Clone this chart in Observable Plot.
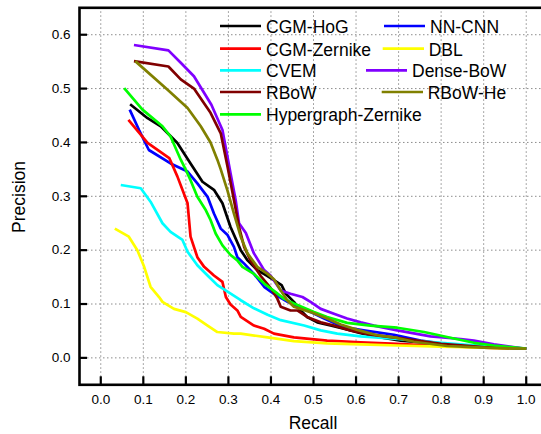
<!DOCTYPE html>
<html><head><meta charset="utf-8">
<script src="https://cdn.jsdelivr.net/npm/d3@7"></script>
<script src="https://cdn.jsdelivr.net/npm/@observablehq/plot@0.6"></script>
<style>
body{margin:0;background:#fff}
#chart{position:relative;width:541px;height:434px;overflow:hidden;background:#fff}
</style>
</head><body><div id="chart"></div>
<script>
// ---- data ----
const seriesNames = ["CGM-HoG","NN-CNN","CGM-Zernike","DBL","CVEM","Dense-BoW","RBoW","Hypergraph-Zernike","RBoW-He"];
const seriesColors = ["#000000","#0000ff","#ff0000","#ffff00","#00ffff","#8000ff","#800000","#00ff00","#808000"];
const xTicks = [0,0.1,0.2,0.3,0.4,0.5,0.6,0.7,0.8,0.9,1.0];
const yTicks = [0,0.1,0.2,0.3,0.4,0.5,0.6];

const cgmHogRecall    = [0.069,0.110,0.141,0.180,0.211,0.239,0.266,0.286,0.305,0.329,0.345,0.368,0.392,0.415,0.425,0.435,0.454,0.470,0.485,0.509,0.540,0.571,0.611,0.658,0.705,0.800,0.900,1.000];
const cgmHogPrecision = [0.471,0.445,0.430,0.399,0.361,0.327,0.312,0.287,0.243,0.200,0.181,0.163,0.152,0.140,0.135,0.119,0.104,0.088,0.076,0.066,0.060,0.054,0.046,0.038,0.032,0.026,0.021,0.017];

const nnCnnRecall    = [0.068,0.090,0.113,0.164,0.204,0.227,0.251,0.266,0.282,0.298,0.313,0.321,0.337,0.360,0.384,0.407,0.439,0.478,0.525,0.571,0.618,0.689,0.752,0.814,0.900,1.000];
const nnCnnPrecision = [0.461,0.423,0.386,0.361,0.346,0.324,0.299,0.268,0.240,0.228,0.206,0.187,0.175,0.156,0.132,0.119,0.104,0.091,0.073,0.057,0.051,0.043,0.032,0.025,0.021,0.017];

const cgmZernikeRecall    = [0.065,0.110,0.161,0.180,0.204,0.211,0.227,0.243,0.266,0.286,0.294,0.305,0.321,0.329,0.360,0.384,0.407,0.454,0.532,0.611,0.697,0.800,0.900,1.000];
const cgmZernikePrecision = [0.442,0.399,0.371,0.337,0.287,0.225,0.187,0.169,0.153,0.141,0.113,0.099,0.088,0.076,0.060,0.054,0.045,0.038,0.032,0.029,0.026,0.022,0.019,0.017];

const dblRecall    = [0.033,0.066,0.086,0.102,0.117,0.137,0.145,0.172,0.200,0.227,0.251,0.274,0.313,0.329,0.392,0.454,0.532,0.611,0.697,0.800,0.900,1.000];
const dblPrecision = [0.240,0.225,0.200,0.169,0.132,0.113,0.104,0.091,0.085,0.073,0.060,0.048,0.045,0.045,0.038,0.031,0.027,0.025,0.023,0.021,0.019,0.017];

const cvemRecall    = [0.047,0.094,0.117,0.145,0.164,0.192,0.204,0.227,0.251,0.274,0.298,0.329,0.360,0.392,0.423,0.478,0.517,0.556,0.611,0.697,0.800,0.900,1.000];
const cvemPrecision = [0.321,0.315,0.290,0.250,0.234,0.219,0.197,0.172,0.153,0.135,0.123,0.107,0.092,0.080,0.070,0.060,0.051,0.045,0.040,0.035,0.028,0.022,0.017];

const denseBowRecall    = [0.078,0.159,0.188,0.219,0.260,0.286,0.305,0.317,0.325,0.341,0.360,0.384,0.399,0.423,0.446,0.474,0.493,0.517,0.548,0.579,0.611,0.642,0.697,0.775,0.846,0.877,0.924,1.000];
const denseBowPrecision = [0.581,0.571,0.548,0.523,0.470,0.423,0.343,0.293,0.250,0.232,0.194,0.163,0.153,0.125,0.119,0.113,0.104,0.091,0.082,0.073,0.066,0.060,0.051,0.040,0.035,0.032,0.025,0.017];

const rbowRecall    = [0.078,0.159,0.188,0.219,0.258,0.282,0.298,0.313,0.325,0.337,0.352,0.376,0.399,0.415,0.423,0.446,0.462,0.485,0.517,0.548,0.587,0.634,0.697,0.800,0.900,1.000];
const rbowPrecision = [0.551,0.541,0.517,0.500,0.455,0.417,0.355,0.293,0.243,0.206,0.181,0.152,0.130,0.110,0.095,0.088,0.088,0.076,0.066,0.060,0.051,0.043,0.037,0.026,0.020,0.017];

const hyperRecall    = [0.055,0.098,0.145,0.164,0.188,0.200,0.211,0.227,0.247,0.258,0.270,0.286,0.305,0.321,0.333,0.360,0.384,0.411,0.430,0.454,0.501,0.532,0.579,0.634,0.697,0.760,0.830,0.877,0.924,1.000];
const hyperPrecision = [0.501,0.461,0.430,0.411,0.368,0.349,0.330,0.299,0.274,0.256,0.231,0.209,0.191,0.181,0.169,0.156,0.138,0.122,0.110,0.101,0.085,0.076,0.065,0.060,0.056,0.048,0.036,0.028,0.023,0.017];

const rbowHeRecall    = [0.081,0.157,0.204,0.235,0.258,0.274,0.282,0.298,0.313,0.329,0.345,0.368,0.392,0.407,0.423,0.439,0.454,0.493,0.532,0.564,0.603,0.650,0.697,0.736,0.814,0.900,1.000];
const rbowHePrecision = [0.551,0.498,0.464,0.430,0.400,0.368,0.350,0.310,0.268,0.225,0.194,0.169,0.156,0.146,0.125,0.106,0.095,0.085,0.073,0.062,0.052,0.042,0.037,0.030,0.022,0.019,0.017];

const seriesRecall = [cgmHogRecall,nnCnnRecall,cgmZernikeRecall,dblRecall,cvemRecall,denseBowRecall,rbowRecall,hyperRecall,rbowHeRecall];
const seriesPrecision = [cgmHogPrecision,nnCnnPrecision,cgmZernikePrecision,dblPrecision,cvemPrecision,denseBowPrecision,rbowPrecision,hyperPrecision,rbowHePrecision];

const table = [];
seriesNames.forEach((name, i) => {
  seriesRecall[i].forEach((r, j) => table.push({series: name, recall: r, precision: seriesPrecision[i][j]}));
});

const FONT = "'Liberation Sans', Arial, Helvetica, sans-serif";
const W = 541, H = 434;
const mL = 79, mR = -6, mT = 7.3, mB = 49.7;

const plot = Plot.plot({
  width: W, height: H,
  marginLeft: mL, marginRight: mR, marginTop: mT, marginBottom: mB,
  style: {fontFamily: FONT, background: "#fff", color: "#000", overflow: "hidden"},
  x: {domain: [-0.05, 1.05], range: [mL, W - mR], axis: null},
  y: {domain: [-0.05, 0.65], range: [H - mB, mT], axis: null},
  color: {type: "ordinal", domain: seriesNames, range: seriesColors},
  marks: [
    Plot.gridX(xTicks, {stroke: "#8c8c8c", strokeOpacity: 1, strokeWidth: 1, strokeDasharray: "1.5,2.5"}),
    Plot.gridY(yTicks, {stroke: "#8c8c8c", strokeOpacity: 1, strokeWidth: 1, strokeDasharray: "1.5,2.5"}),
    Plot.line(table, {x: "recall", y: "precision", z: "series", stroke: "series", strokeWidth: 2.7, strokeLinejoin: "round", strokeLinecap: "butt"}),
    Plot.ruleX(xTicks, {x: d => d, insetTop: (H - mB - mT) - 8, stroke: "#000", strokeWidth: 2.2}),
    Plot.ruleY(yTicks, {y: d => d, insetRight: (W - mR - mL) - 8, stroke: "#000", strokeWidth: 2.2}),
    Plot.frame({stroke: "#000", strokeWidth: 2.6}),
    Plot.axisX(xTicks, {tickSize: 0, tickPadding: 10, tickFormat: d3.format(".1f"), fontSize: 13.5, label: null}),
    Plot.axisY(yTicks, {tickSize: 0, tickPadding: 9, tickFormat: d3.format(".1f"), fontSize: 13.5, label: null})
  ]
});
document.getElementById("chart").appendChild(plot);

// axis titles and legend (non-data annotations)
const svg = d3.select(plot);
svg.append("text").attr("x", 313).attr("y", 429).attr("text-anchor", "middle")
  .attr("font-family", FONT).attr("font-size", 17.5).attr("fill", "#000").text("Recall");
svg.append("text").attr("transform", "translate(25,197) rotate(-90)").attr("text-anchor", "middle")
  .attr("font-family", FONT).attr("font-size", 17.5).attr("fill", "#000").text("Precision");

const legendLayout = [
  // [series name, line x0, line x1, text x, row y]
  ["CGM-HoG", 220, 261, 266, 26],
  ["CGM-Zernike", 220, 261, 266, 48.7],
  ["CVEM", 220, 261, 266, 70.3],
  ["RBoW", 220, 261, 266, 92],
  ["Hypergraph-Zernike", 220, 261, 266, 114.3],
  ["NN-CNN", 384, 425, 430, 26],
  ["DBL", 382.7, 424, 428.7, 48.7],
  ["Dense-BoW", 366, 407, 412, 70.3],
  ["RBoW-He", 381.7, 423, 427.7, 92]
];
const lg = svg.append("g");
legendLayout.forEach(([name, x0, x1, tx, y]) => {
  const c = seriesColors[seriesNames.indexOf(name)];
  lg.append("line").attr("x1", x0).attr("x2", x1).attr("y1", y).attr("y2", y)
    .attr("stroke", c).attr("stroke-width", 2.7);
  lg.append("text").attr("x", tx).attr("y", y + 7).attr("text-anchor", "start").attr("font-family", FONT)
    .attr("font-size", 17.5).attr("fill", "#000").text(name);
});
</script></body></html>
